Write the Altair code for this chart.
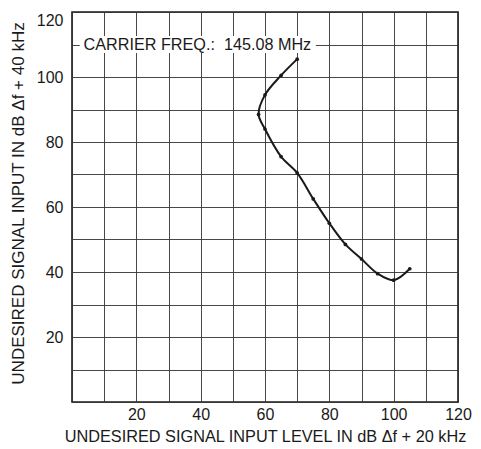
import altair as alt
import pandas as pd

# Curve data
x_level = [70, 65, 60, 58, 60, 65, 70, 75, 80, 85, 90, 95, 100, 105]
y_level = [105.5, 100.5, 94.5, 88.5, 84, 75.5, 70.5, 62.5, 55, 48.5, 44, 39.5, 37.5, 41]

# Annotation
note_text = ["CARRIER FREQ.:\u00a0\u00a0145.08 MHz"]
note_x = [3.6]
note_y = [110]
note_box_x = [2.4]
note_box_x2 = [75.8]
note_box_y = [107.4]
note_box_y2 = [112.6]

grid_values = list(range(0, 121, 10))

df = pd.DataFrame({"x": x_level, "y": y_level, "i": list(range(len(x_level)))})
note = pd.DataFrame({"t": note_text, "x": note_x, "y": note_y})
box = pd.DataFrame({"x": note_box_x, "x2": note_box_x2, "y": note_box_y, "y2": note_box_y2})

FONT = "Liberation Sans"
INK = "#1a1a1a"

xscale = alt.Scale(domain=[0, 120], nice=False, zero=False)
yscale = alt.Scale(domain=[0, 120], nice=False, zero=False)

label_expr = "datum.value > 0 && datum.value % 20 == 0 ? datum.label : ''"

xaxis = alt.Axis(
    values=grid_values,
    labelExpr=label_expr,
    title="UNDESIRED SIGNAL INPUT LEVEL IN dB \u0394f + 20 kHz",
    titleY=34, titleBaseline="middle", titleFontSize=16.3,
    labelPadding=4, labelFlush=False,
)
yaxis = alt.Axis(
    values=grid_values,
    labelExpr=label_expr,
    title="UNDESIRED SIGNAL INPUT IN dB \u0394f + 40 kHz",
    titleX=-54, titleY=191, titleBaseline="middle", titleAngle=-90,
    titleFontSize=17,
    labelPadding=9, labelFlush=True,
)

X = alt.X("x:Q", scale=xscale, axis=xaxis)
Y = alt.Y("y:Q", scale=yscale, axis=yaxis)

boxes = alt.Chart(box).mark_rect(color="white").encode(x=X, x2="x2:Q", y=Y, y2="y2:Q")

texts = alt.Chart(note).mark_text(
    align="left", baseline="middle", font=FONT, fontSize=16.2, color=INK
).encode(x=X, y=Y, text="t:N")

line = alt.Chart(df).mark_line(
    color=INK, strokeWidth=2, interpolate="catmull-rom"
).encode(x=X, y=Y, order="i:Q")

pts = alt.Chart(df).mark_circle(color=INK, size=14, opacity=1).encode(x=X, y=Y)

chart = alt.layer(boxes, texts, line, pts).properties(
    width=386, height=390,
    autosize=alt.AutoSizeParams(type="none"),
    padding={"left": 64, "top": 4, "right": 15, "bottom": 50},
    background="white",
).configure_view(
    stroke=INK, strokeWidth=1.6
).configure_axis(
    domain=False, ticks=False, tickSize=0,
    grid=True, gridColor="#333333", gridWidth=0.9,
    labelFont=FONT, labelFontSize=16, labelColor=INK,
    titleFont=FONT, titleColor=INK, titleFontWeight="normal",
)

chart.save("out.html", embed_options={"renderer": "svg", "actions": False})
